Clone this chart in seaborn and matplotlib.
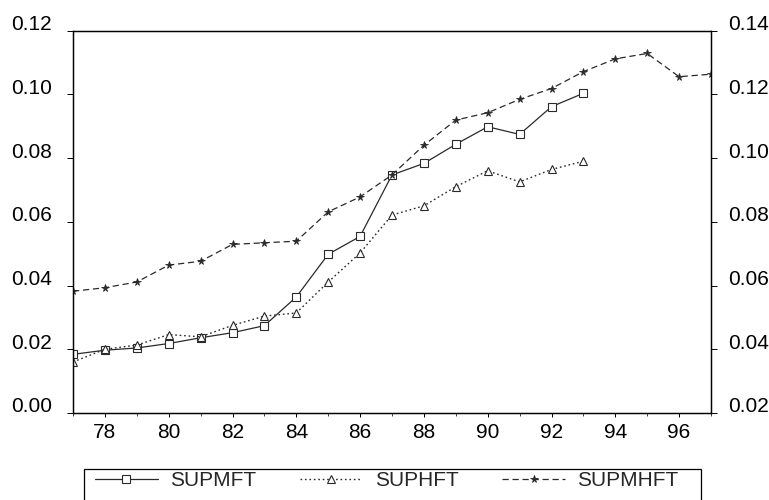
import matplotlib
matplotlib.use("Agg")
import matplotlib.pyplot as plt
import matplotlib.transforms as mtransforms
from matplotlib.patches import Rectangle
from matplotlib.ticker import MultipleLocator
import seaborn as sns

# Annual series (years 1977-1997, shown as two-digit years)
years_short = list(range(77, 94))
years_long = list(range(77, 98))

supmft = [0.0184, 0.0197, 0.0204, 0.0218, 0.0236, 0.0252, 0.0274, 0.0364,
          0.0498, 0.0554, 0.0747, 0.0783, 0.0843, 0.0898, 0.0874, 0.0961, 0.1003]
suphft = [0.0160, 0.0200, 0.0213, 0.0246, 0.0239, 0.0275, 0.0304, 0.0314,
          0.0411, 0.0502, 0.0621, 0.0650, 0.0710, 0.0760, 0.0725, 0.0764, 0.0790]
# plotted against the right-hand scale
supmhft = [0.0582, 0.0593, 0.0611, 0.0664, 0.0676, 0.0729, 0.0734, 0.0739,
           0.0831, 0.0878, 0.0947, 0.1040, 0.1119, 0.1142, 0.1184, 0.1218,
           0.1271, 0.1311, 0.1328, 0.1255, 0.1263]

labels = ["SUPMFT", "SUPHFT", "SUPMHFT"]
left_ticks = [0.00, 0.02, 0.04, 0.06, 0.08, 0.10, 0.12]
right_ticks = [0.02, 0.04, 0.06, 0.08, 0.10, 0.12, 0.14]
x_ticks = [78, 80, 82, 84, 86, 88, 90, 92, 94, 96]

sns.set_theme(style="white")
plt.rcParams["font.family"] = ["Liberation Sans", "DejaVu Sans"]

FS = 15
ink = "#2a2a2a"

fig = plt.figure(figsize=(7.69, 5.0), dpi=100)
ax = fig.add_axes([73 / 769, 1 - 413 / 500, (711 - 73) / 769, (413 - 30.5) / 500])
ax2 = ax.twinx()

sns.lineplot(x=years_short, y=supmft, ax=ax, color=ink, linewidth=0.9,
             linestyle="-", marker="s", markersize=5.5, markerfacecolor="white",
             markeredgecolor=ink, markeredgewidth=0.8, label=labels[0], legend=False)
sns.lineplot(x=years_short, y=suphft, ax=ax, color=ink, linewidth=1.0,
             linestyle=(0, (1.2, 2.0)), marker="^", markersize=5.5,
             markerfacecolor="white", markeredgecolor=ink, markeredgewidth=0.8,
             label=labels[1], legend=False)
sns.lineplot(x=years_long, y=supmhft, ax=ax2, color=ink, linewidth=0.9,
             linestyle=(0, (5, 3)), marker="*", markersize=5.5,
             markerfacecolor=ink, markeredgecolor=ink, markeredgewidth=0.6,
             label=labels[2], legend=False)

ax.set_xlim(77, 97)
ax.set_ylim(0.0, 0.12)
ax2.set_ylim(0.02, 0.14)
ax.set_xticks(x_ticks)
ax.xaxis.set_minor_locator(MultipleLocator(1))
ax.set_xticklabels([str(v) for v in x_ticks])
ax.set_yticks(left_ticks)
ax.set_yticklabels([f"{v:.2f}" for v in left_ticks])
ax2.set_yticks(right_ticks)
ax2.set_yticklabels([f"{v:.2f}" for v in right_ticks])
ax.set_xlabel("")
ax.set_ylabel("")
ax2.set_ylabel("")

for a in (ax, ax2):
    for s in a.spines.values():
        s.set_color("black")
        s.set_linewidth(0.9)
    a.grid(False)
    a.set_facecolor("none")

ax.tick_params(axis="x", which="major", direction="out", length=3, width=0.7,
               pad=4, labelsize=FS, colors="black", bottom=True)
ax.tick_params(axis="x", which="minor", direction="out", length=2, width=0.6,
               bottom=True)
ax.tick_params(axis="y", direction="out", length=4, width=0.7, pad=11,
               labelsize=FS, colors="black", left=True)
ax2.tick_params(axis="y", direction="out", length=4, width=0.7, pad=8,
                labelsize=FS, colors="black", right=True)

# y labels sit slightly above their tick marks
shift = mtransforms.ScaledTranslation(0, 8 / 100, fig.dpi_scale_trans)
for lab in ax.get_yticklabels() + ax2.get_yticklabels():
    lab.set_transform(lab.get_transform() + shift)

handles = ax.get_lines()[:2] + ax2.get_lines()[:1]
fig.legend(handles, labels, loc="center left",
           bbox_to_anchor=(95 / 769, 1 - 481 / 500), ncol=3, frameon=False,
           fontsize=FS, handlelength=3.0, handletextpad=0.6, columnspacing=2.1,
           borderpad=0, borderaxespad=0, numpoints=1)
fig.add_artist(Rectangle((84 / 769, -0.02), (701 - 84) / 769, (500 - 469) / 500 + 0.02,
                         transform=fig.transFigure, fill=False,
                         edgecolor="black", linewidth=0.9))

fig.savefig("out.png", dpi=100)
